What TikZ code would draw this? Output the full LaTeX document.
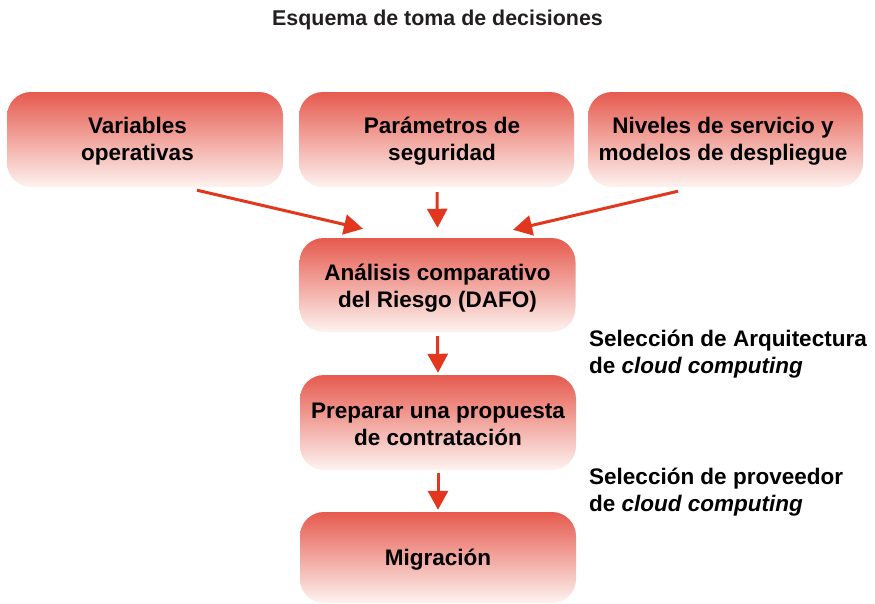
\documentclass[tikz,border=0pt]{standalone}
\usepackage{fontspec}
\setmainfont{Liberation Sans}
\usetikzlibrary{arrows.meta}
\definecolor{boxtop}{HTML}{E65A4E}
\definecolor{boxmid}{HTML}{F2A08F}
\definecolor{boxbot}{HTML}{FDF3F0}
\definecolor{arrowred}{HTML}{E2361E}
\definecolor{titlegray}{HTML}{231F20}
\tikzset{
  stepbox/.style={rectangle, rounded corners=24pt, top color=boxtop, middle color=boxmid, bottom color=boxbot,
    draw=none, inner sep=0pt, minimum width=276pt, minimum height=95pt},
  boxtext/.style={inner sep=0pt, align=center, font=\fontsize{22.5}{27}\selectfont\bfseries, text=black},
  sidelabel/.style={inner sep=0pt, align=left, font=\fontsize{22.5}{27}\selectfont\bfseries, text=black, anchor=west},
  arr/.style={draw=arrowred, line width=3pt, -{Triangle[width=20pt,length=19pt]}}
}
\begin{document}
\begin{tikzpicture}[x=1pt,y=-1pt]
\useasboundingbox (0,0) rectangle (875,603);
\node[anchor=base, inner sep=0pt, font=\fontsize{21.4}{25}\selectfont\bfseries, text=titlegray] (title) at (437.5,25) {Esquema de toma de decisiones};
\node[stepbox] (b1) at (145,139.5) {};
\node[stepbox, minimum width=275pt] (b2) at (436.5,139.5) {};
\node[stepbox, minimum width=275pt] (b3) at (725.5,139.5) {};
\node[stepbox, minimum height=94pt] (b4) at (437.5,285) {};
\node[stepbox] (b5) at (438,422.5) {};
\node[stepbox, minimum height=91pt] (b6) at (438,557.5) {};
\node[boxtext] (t1) at ([shift={(-7.5,2)}]b1.center) {Variables\\operativas};
\node[boxtext] (t2) at ([shift={(5.5,2)}]b2.center) {Parámetros de\\seguridad};
\node[boxtext] (t3) at ([shift={(-2.5,2)}]b3.center) {Niveles de servicio y\\modelos de despliegue};
\node[boxtext] (t4) at ([shift={(0,3)}]b4.center) {Análisis comparativo\\del Riesgo (DAFO)};
\node[boxtext] (t5) at ([shift={(0,2)}]b5.center) {Preparar una propuesta\\de contratación};
\node[boxtext] (t6) at ([shift={(0,2)}]b6.center) {Migración};
\node[sidelabel] (l1) at (589,354) {Selección de Arquitectura\\de \textit{cloud computing}};
\node[sidelabel] (l2) at (589,492.5) {Selección de proveedor\\de \textit{cloud computing}};
\draw[arr] ([shift={(52,3)}]b1.south) -- ([shift={(-74.5,-9)}]b4.north);
\draw[arr] ([shift={(0.5,5)}]b2.south) -- ([shift={(0,-10)}]b4.north);
\draw[arr] ([shift={(-47.5,4)}]b3.south) -- ([shift={(75.5,-8)}]b4.north);
\draw[arr] ([shift={(0,4)}]b4.south) -- ([shift={(0,-2)}]b5.north);
\draw[arr] ([shift={(0,3)}]b5.south) -- ([shift={(0,-2)}]b6.north);
\end{tikzpicture}
\end{document}
